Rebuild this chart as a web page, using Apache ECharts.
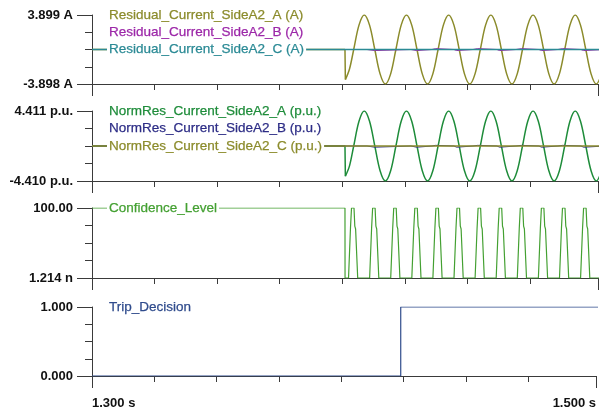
<!DOCTYPE html>
<html><head><meta charset="utf-8">
<script src="https://cdn.jsdelivr.net/npm/echarts@6/dist/echarts.min.js"></script>
<style>html,body{margin:0;padding:0;background:#fff}#c{width:599px;height:412px}</style>
</head><body><div id="c"></div>
<script>
// ---------- data ----------
const xRange = [1.3, 1.5022];
const xLabels = ['1.300 s', '1.500 s'];
const xTickValues = [1.325, 1.35, 1.375, 1.4, 1.425, 1.45, 1.475];

const p1Names = ['Residual_Current_SideA2_A (A)', 'Residual_Current_SideA2_B (A)', 'Residual_Current_SideA2_C (A)'];
const p2Names = ['NormRes_Current_SideA2_A (p.u.)', 'NormRes_Current_SideA2_B (p.u.)', 'NormRes_Current_SideA2_C (p.u.)'];
const p3Names = ['Confidence_Level'];
const p4Names = ['Trip_Decision'];

const p1YRange = [-3.898, 3.899];
const p1YLabels = ['-3.898 A', '3.899 A'];
const p2YRange = [-4.410, 4.411];
const p2YLabels = ['-4.410 p.u.', '4.411 p.u.'];
const p3YRange = [0, 100];
const p3YLabels = ['1.214 n', '100.00'];
const p4YRange = [0, 1];
const p4YLabels = ['0.000', '1.000'];

const aTimes = [1.3, 1.40109, 1.40125, 1.40290,
  1.40458, 1.40669, 1.40880, 1.41091, 1.41301, 1.41512, 1.41723, 1.41934,
  1.42144, 1.42355, 1.42566, 1.42777, 1.42987, 1.43198, 1.43409, 1.43620,
  1.43830, 1.44041, 1.44252, 1.44463, 1.44674, 1.44884, 1.45095, 1.45306,
  1.45517, 1.45727, 1.45938, 1.46149, 1.46360, 1.46570, 1.46781, 1.46992,
  1.47203, 1.47413, 1.47624, 1.47835, 1.48046, 1.48256, 1.48467, 1.48678,
  1.48889, 1.49099, 1.49310, 1.49521, 1.49732, 1.49943, 1.50153, 1.50364];
const p1AValues = [0, 0, -3.4, -2.2,
  0, 2.757, 3.899, 2.757, 0, -2.757, -3.898, -2.757,
  0, 2.757, 3.899, 2.757, 0, -2.757, -3.898, -2.757,
  0, 2.757, 3.899, 2.757, 0, -2.757, -3.898, -2.757,
  0, 2.757, 3.899, 2.757, 0, -2.757, -3.898, -2.757,
  0, 2.757, 3.899, 2.757, 0, -2.757, -3.898, -2.757,
  0, 2.757, 3.899, 2.757, 0, -2.757, -3.898, -2.757];
const p2AValues = [0, 0, -3.8, -2.5,
  0, 3.119, 4.411, 3.119, 0, -3.118, -4.410, -3.118,
  0, 3.119, 4.411, 3.119, 0, -3.118, -4.410, -3.118,
  0, 3.119, 4.411, 3.119, 0, -3.118, -4.410, -3.118,
  0, 3.119, 4.411, 3.119, 0, -3.118, -4.410, -3.118,
  0, 3.119, 4.411, 3.119, 0, -3.118, -4.410, -3.118,
  0, 3.119, 4.411, 3.119, 0, -3.118, -4.410, -3.118];

const bTimes = [1.3,
  1.40988, 1.41000, 1.41295, 1.41307,
  1.42746, 1.42758, 1.42973, 1.42985,
  1.43585, 1.43597, 1.43733, 1.43745,
  1.44464, 1.44476, 1.44572, 1.44584,
  1.45223, 1.45235, 1.45411, 1.45423,
  1.46182, 1.46194, 1.46290, 1.46302,
  1.46941, 1.46953, 1.47169, 1.47181,
  1.47860, 1.47872, 1.47968, 1.47980,
  1.48619, 1.48631, 1.48807, 1.48819,
  1.49538, 1.49550, 1.49646, 1.49658,
  1.505];
const p1BValues = [0,
  0, -0.12, -0.12, 0,
  0, -0.12, -0.12, 0,
  0, 0.1, 0.1, 0,
  0, -0.12, -0.12, 0,
  0, 0.1, 0.1, 0,
  0, -0.12, -0.12, 0,
  0, 0.1, 0.1, 0,
  0, -0.12, -0.12, 0,
  0, 0.1, 0.1, 0,
  0, -0.12, -0.12, 0,
  0];
const p2BValues = [0,
  0, -0.15, -0.15, 0,
  0, -0.15, -0.15, 0,
  0, 0.08, 0.08, 0,
  0, -0.15, -0.15, 0,
  0, 0.08, 0.08, 0,
  0, -0.15, -0.15, 0,
  0, 0.08, 0.08, 0,
  0, -0.15, -0.15, 0,
  0, 0.08, 0.08, 0,
  0, -0.15, -0.15, 0,
  0];

const cTimes = [1.3, 1.505];
const p1CValues = [0, 0];
const p2CValues = [0, 0];

const confTimes = [1.3, 1.40109, 1.40112,
  1.40251, 1.40330, 1.40370, 1.40470, 1.40502, 1.40534, 1.40618,
  1.41094, 1.41174, 1.41214, 1.41313, 1.41345, 1.41377, 1.41461,
  1.41937, 1.42017, 1.42057, 1.42156, 1.42188, 1.42220, 1.42304,
  1.42780, 1.42860, 1.42900, 1.42999, 1.43031, 1.43063, 1.43147,
  1.43623, 1.43703, 1.43743, 1.43842, 1.43874, 1.43906, 1.43990,
  1.44466, 1.44546, 1.44586, 1.44686, 1.44718, 1.44750, 1.44833,
  1.45309, 1.45389, 1.45429, 1.45529, 1.45561, 1.45593, 1.45676,
  1.46152, 1.46232, 1.46272, 1.46372, 1.46404, 1.46436, 1.46520,
  1.46995, 1.47075, 1.47115, 1.47215, 1.47247, 1.47279, 1.47363,
  1.47838, 1.47918, 1.47958, 1.48058, 1.48090, 1.48122, 1.48206,
  1.48681, 1.48761, 1.48801, 1.48901, 1.48933, 1.48965, 1.49049,
  1.49524, 1.49604, 1.49644, 1.49744, 1.49776, 1.49808, 1.49892,
  1.505];
const confValues = [100, 100, 0,
  0, 72, 100, 100, 74, 70, 0,
  0, 72, 100, 100, 74, 70, 0,
  0, 72, 100, 100, 74, 70, 0,
  0, 72, 100, 100, 74, 70, 0,
  0, 72, 100, 100, 74, 70, 0,
  0, 72, 100, 100, 74, 70, 0,
  0, 72, 100, 100, 74, 70, 0,
  0, 72, 100, 100, 74, 70, 0,
  0, 72, 100, 100, 74, 70, 0,
  0, 72, 100, 100, 74, 70, 0,
  0, 72, 100, 100, 74, 70, 0,
  0, 72, 100, 100, 74, 70, 0,
  0];

const tripTimes = [1.3, 1.42386, 1.42386, 1.505];
const tripValues = [0, 0, 1, 1];

// ---------- styling / layout ----------
const p1Colors = ['#8b8b2b', '#9c27a8', '#2b8a95'];
const p2Colors = ['#1e8c3a', '#2d2d86', '#8b8b2b'];
const p3Colors = ['#44a032'];
const p4Colors = ['#2f4b8c'];
const axisColor = '#3a3a3a';
const FONT = '"Liberation Sans", Arial, Helvetica, sans-serif';

const gridDefs = [{top: 15, height: 69}, {top: 111, height: 70}, {top: 208, height: 70}, {top: 307, height: 69}];
const yRanges = [p1YRange, p2YRange, p3YRange, p4YRange];
const yLabelSets = [p1YLabels, p2YLabels, p3YLabels, p4YLabels];

const zip = (ts, vs) => ts.map((t, i) => [t, vs[i]]);

const grid = gridDefs.map(g => ({left: 92, width: 506, top: g.top, height: g.height, containLabel: false}));
const xAxis = [];
const yAxis = [];
gridDefs.forEach((g, i) => {
  const last = i === 3;
  xAxis.push({
    type: 'value', gridIndex: i, position: 'bottom', min: xRange[0], max: xRange[1],
    axisLine: {show: true, onZero: false, lineStyle: {color: axisColor, width: 1}},
    axisTick: {show: true, length: 6, customValues: xTickValues, lineStyle: {color: axisColor, width: 1}},
    axisLabel: {show: last, customValues: [xRange[0]], formatter: () => xLabels[0], align: 'left', margin: 21,
      color: '#111', fontWeight: 'bold', fontSize: 13, fontFamily: FONT},
    splitLine: {show: false}
  });
  xAxis.push({
    type: 'value', gridIndex: i, position: 'bottom', min: xRange[0], max: xRange[1],
    axisLine: {show: false, onZero: false},
    axisTick: {show: true, length: 12, customValues: [xRange[0], xRange[1]], lineStyle: {color: axisColor, width: 1}},
    axisLabel: {show: last, customValues: [xRange[1]], formatter: () => xLabels[1], align: 'right', margin: 21,
      color: '#111', fontWeight: 'bold', fontSize: 13, fontFamily: FONT},
    splitLine: {show: false}
  });
  const r = yRanges[i], labs = yLabelSets[i];
  const span = r[1] - r[0];
  yAxis.push({
    type: 'value', gridIndex: i, position: 'left', min: r[0], max: r[1],
    axisLine: {show: true, onZero: false, lineStyle: {color: axisColor, width: 1}},
    axisTick: {show: true, length: 15, customValues: [r[0], r[1]], lineStyle: {color: axisColor, width: 1}},
    axisLabel: {show: true, customValues: [r[0], r[1]], formatter: v => (v === r[1] ? labs[1] : labs[0]),
      margin: 19, color: '#111', fontWeight: 'bold', fontSize: 13, fontFamily: FONT},
    splitLine: {show: false}
  });
  yAxis.push({
    type: 'value', gridIndex: i, position: 'left', min: r[0], max: r[1],
    axisLine: {show: false, onZero: false},
    axisTick: {show: true, length: 7, customValues: [r[0] + span / 4, r[0] + span / 2, r[0] + span * 3 / 4], lineStyle: {color: axisColor, width: 1}},
    axisLabel: {show: false},
    splitLine: {show: false}
  });
});

function line(gi, data, color, opts) {
  opts = opts || {};
  return {
    type: 'line', xAxisIndex: gi * 2, yAxisIndex: gi * 2, data: data,
    showSymbol: false, symbol: 'none', smooth: opts.smooth || false,
    z: opts.z || 2,
    lineStyle: {color: color, width: opts.width || 1.3}, itemStyle: {color: color},
    animation: false, silent: true
  };
}

const p1A = zip(aTimes, p1AValues);
const p2A = zip(aTimes, p2AValues);
const series = [
  line(0, p1A.slice(0, 3), p1Colors[0], {width: 1.5}),
  line(0, p1A.slice(2), p1Colors[0], {smooth: 0.33, width: 1.5}),
  line(0, zip(bTimes, p1BValues), p1Colors[1], {z: 2, width: 1}),
  line(0, zip(cTimes, p1CValues), p1Colors[2], {z: 4, width: 1.3}),
  line(1, p2A.slice(0, 3), p2Colors[0], {width: 1.5}),
  line(1, p2A.slice(2), p2Colors[0], {smooth: 0.33, width: 1.5}),
  line(1, zip(bTimes, p2BValues), p2Colors[1], {z: 2, width: 1}),
  line(1, zip(cTimes, p2CValues), p2Colors[2], {z: 4, width: 1.3}),
  line(2, zip(confTimes, confValues), p3Colors[0], {width: 1.2}),
  line(3, zip(tripTimes, tripValues), p4Colors[0], {width: 1.2})
];

const legendRows = [
  {names: p1Names, colors: p1Colors, ys: [15, 32, 49.5]},
  {names: p2Names, colors: p2Colors, ys: [111, 128.5, 146]},
  {names: p3Names, colors: p3Colors, ys: [208]},
  {names: p4Names, colors: p4Colors, ys: [307]}
];
const graphic = [];
legendRows.forEach(row => row.names.forEach((n, k) => {
  graphic.push({
    type: 'text', left: 107, top: row.ys[k] - 8, z: 100,
    style: {text: n, fill: row.colors[k], font: '13.5px ' + FONT, backgroundColor: '#fff',
      padding: [1, 2, 1, 2], stroke: row.colors[k], lineWidth: 0.25}
  });
}));

const chart = echarts.init(document.getElementById('c'), null, {renderer: 'canvas'});
chart.setOption({
  animation: false,
  backgroundColor: '#fff',
  grid: grid, xAxis: xAxis, yAxis: yAxis, series: series, graphic: graphic
});
</script></body></html>
